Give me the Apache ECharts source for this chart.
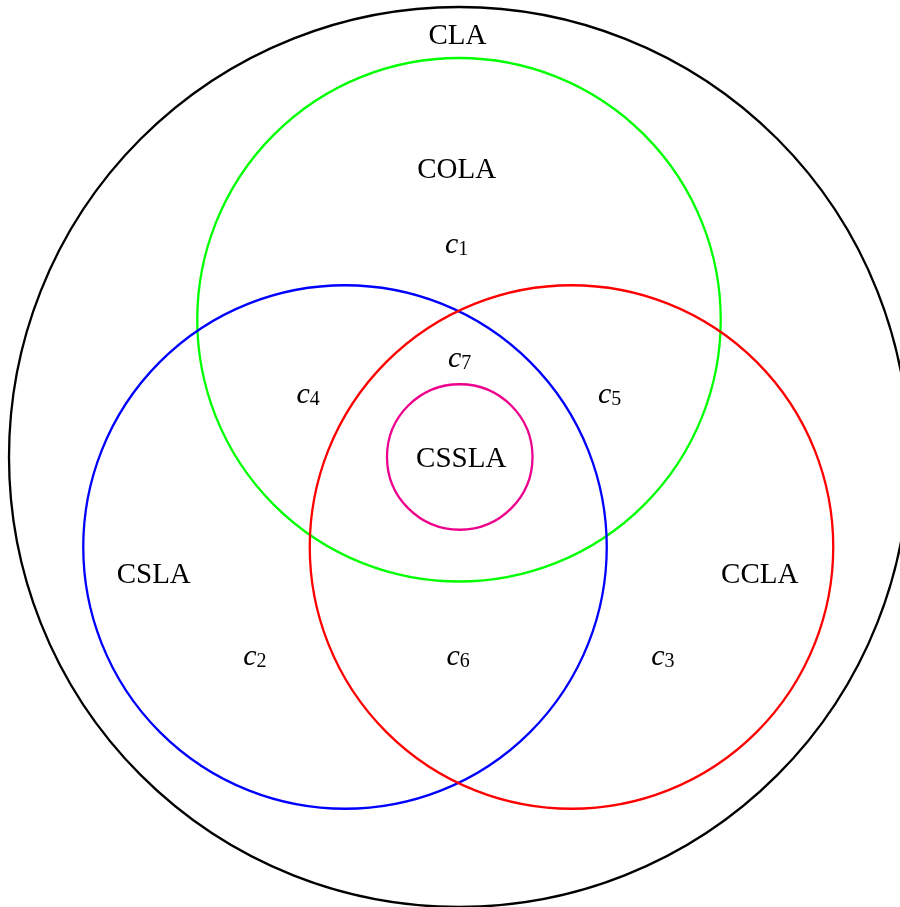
<!DOCTYPE html>
<html>
<head>
<meta charset="utf-8">
<script src="https://cdn.jsdelivr.net/npm/echarts@6/dist/echarts.min.js"></script>
<style>
  html, body { margin: 0; padding: 0; background: #fff; }
  #chart { width: 900px; height: 907px; }
</style>
</head>
<body>
<div id="chart"></div>
<script>
// circles: centre x, centre y, radius (plot units)
const circleNames = ["CLA", "COLA", "CSLA", "CCLA", "CSSLA"];
const circleX = [0, 0, -1.52, 1.5, 0.01];
const circleY = [0, 1.83, -1.2, -1.2, 0];
const circleR = [6.0, 3.49, 3.49, 3.49, 0.97];
const circleColors = ["#000000", "#00ff00", "#0000ff", "#ff0000", "#ec008c"];

// set names
const setLabels = ["CLA", "COLA", "CSSLA", "CSLA", "CCLA"];
const setLabelX = [-0.02, -0.03, 0.03, -4.07, 4.01];
const setLabelY = [5.64, 3.86, 0, -1.54, -1.54];

// region labels c_i
const regionIdx = ["1", "7", "4", "5", "2", "6", "3"];
const regionX = [-0.05, -0.01, -2.03, 1.99, -2.74, -0.03, 2.7];
const regionY = [2.83, 1.31, 0.83, 0.83, -2.67, -2.67, -2.67];

const FONT = "'Liberation Serif', 'DejaVu Serif', serif";

const chart = echarts.init(document.getElementById("chart"), null, { renderer: "canvas" });

const option = {
  animation: false,
  backgroundColor: "#fff",
  grid: { left: 0, right: 0, top: 0, bottom: 0 },
  xAxis: { type: "value", min: -6.12, max: 5.88, show: false },
  yAxis: { type: "value", min: -6.0, max: 6.093, show: false },
  series: [
    {
      type: "custom",
      name: "circles",
      data: circleX.map((x, i) => [x, circleY[i], circleR[i]]),
      renderItem: (params, api) => {
        const c = api.coord([api.value(0), api.value(1)]);
        const r = api.size([api.value(2), 0])[0];
        return {
          type: "circle",
          shape: { cx: c[0], cy: c[1], r: r },
          style: { fill: "none", stroke: circleColors[params.dataIndex], lineWidth: 2.3 },
        };
      },
    },
    {
      type: "custom",
      name: "sets",
      data: setLabels.map((t, i) => [setLabelX[i], setLabelY[i]]),
      renderItem: (params, api) => {
        const c = api.coord([api.value(0), api.value(1)]);
        return {
          type: "text",
          x: c[0],
          y: c[1] + 2.5,
          style: {
            text: setLabels[params.dataIndex],
            font: "29px " + FONT,
            fill: "#000",
            align: "center",
            verticalAlign: "middle",
          },
        };
      },
    },
    {
      type: "custom",
      name: "regions",
      data: regionIdx.map((t, i) => [regionX[i], regionY[i]]),
      renderItem: (params, api) => {
        const c = api.coord([api.value(0), api.value(1)]);
        return {
          type: "group",
          x: c[0],
          y: c[1],
          children: [
            {
              type: "text",
              x: 3,
              y: 0,
              style: {
                text: "c",
                font: "italic 30px " + FONT,
                fill: "#000",
                align: "right",
                verticalAlign: "middle",
              },
            },
            {
              type: "text",
              x: 3,
              y: 5,
              style: {
                text: regionIdx[params.dataIndex],
                font: "20px " + FONT,
                fill: "#000",
                align: "left",
                verticalAlign: "middle",
              },
            },
          ],
        };
      },
    },
  ],
};

chart.setOption(option);
</script>
</body>
</html>
